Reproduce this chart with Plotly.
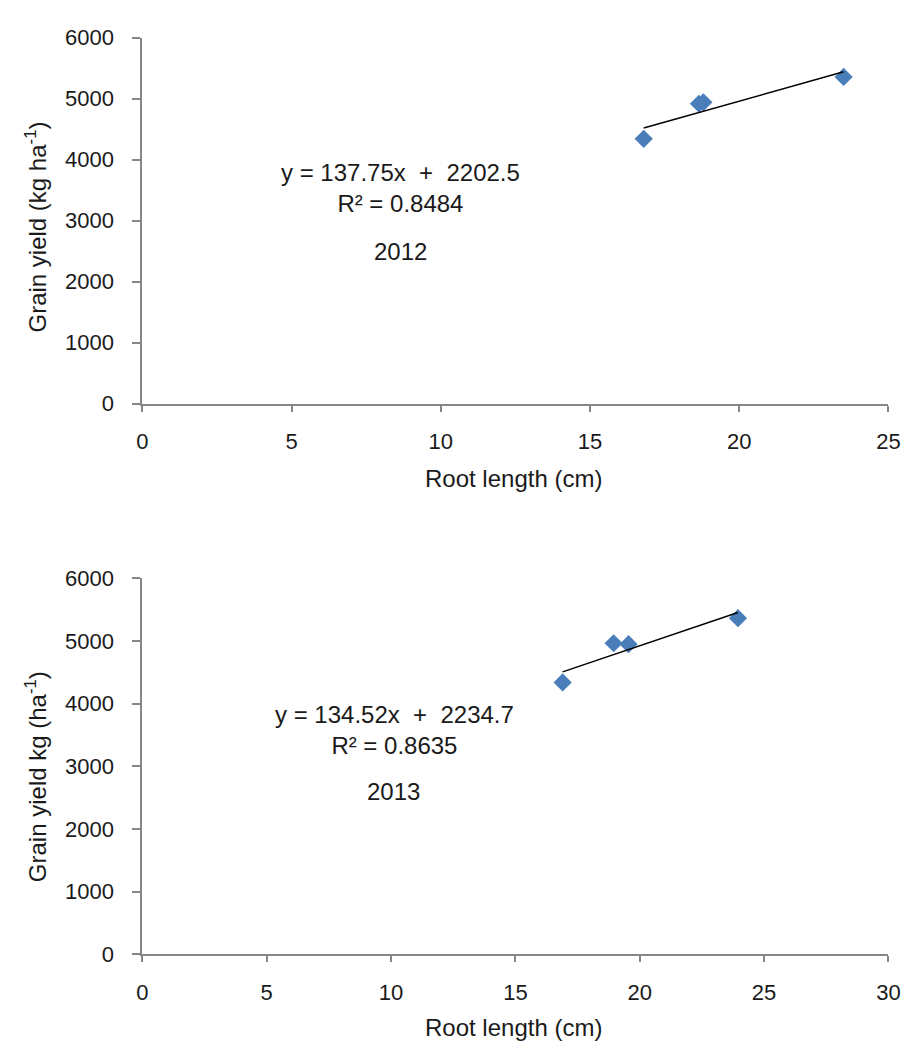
import plotly.graph_objects as go

W, H = 912, 1052

# ---- data ----
root_2012 = [16.8, 18.65, 18.8, 23.5]
yield_2012 = [4340, 4915, 4940, 5355]
slope_2012, intercept_2012, r2_2012 = 137.75, 2202.5, 0.8484

root_2013 = [16.9, 18.95, 19.55, 23.95]
yield_2013 = [4340, 4965, 4950, 5365]
slope_2013, intercept_2013, r2_2013 = 134.52, 2234.7, 0.8635

x_ticks_2012 = [0, 5, 10, 15, 20, 25]
x_ticks_2013 = [0, 5, 10, 15, 20, 25, 30]
y_ticks = [0, 1000, 2000, 3000, 4000, 5000, 6000]

BLUE = "#4A7EBB"
AXC = "#868686"
FONT = "Liberation Sans, Arial, sans-serif"
TXT = "#1a1a1a"

def px(x):
    return x / W

def py(y):
    return 1 - y / H

fig = go.Figure()

def add_panel(xs, ys, slope, icpt, xa, ya):
    fig.add_trace(go.Scatter(
        x=xs, y=ys, mode="markers", xaxis=xa, yaxis=ya,
        marker=dict(symbol="diamond", size=14, color=BLUE,
                    line=dict(width=0)),
        showlegend=False, hoverinfo="x+y"))
    lo, hi = min(xs), max(xs)
    fig.add_trace(go.Scatter(
        x=[lo, hi], y=[slope * lo + icpt, slope * hi + icpt],
        mode="lines", xaxis=xa, yaxis=ya,
        line=dict(color="black", width=1.5),
        showlegend=False, hoverinfo="skip"))

add_panel(root_2012, yield_2012, slope_2012, intercept_2012, "x", "y")
add_panel(root_2013, yield_2013, slope_2013, intercept_2013, "x2", "y2")

axis_common = dict(
    showline=True, linecolor=AXC, linewidth=2, ticks="outside",
    tickcolor=AXC, tickwidth=2, showgrid=False, zeroline=False,
    tickfont=dict(family=FONT, size=22, color=TXT), fixedrange=True,
)

fig.update_layout(
    width=W, height=H, margin=dict(l=0, r=0, t=0, b=0),
    paper_bgcolor="white", plot_bgcolor="white",
    xaxis=dict(axis_common, domain=[px(131), px(892)], range=[0, 25],
               tickvals=x_ticks_2012, ticklen=6, anchor="y",
               ticklabelstandoff=11),
    yaxis=dict(axis_common, domain=[py(393), py(18)], range=[0, 6000],
               tickvals=y_ticks, ticklen=8, anchor="x",
               ticklabelstandoff=14),
    xaxis2=dict(axis_common, domain=[px(131), px(892)], range=[0, 30],
                tickvals=x_ticks_2013, ticklen=6, anchor="y2",
                ticklabelstandoff=11),
    yaxis2=dict(axis_common, domain=[py(957), py(572)], range=[0, 6000],
                tickvals=y_ticks, ticklen=8, anchor="x2",
                ticklabelstandoff=14),
)

def ann(text, x, y, angle=0, size=24):
    fig.add_annotation(text=text, x=px(x), y=py(y), xref="paper", yref="paper",
                       showarrow=False, textangle=angle, align="center",
                       font=dict(family=FONT, size=size, color=TXT),
                       xanchor="center", yanchor="middle")

# axis titles
ann("Grain yield (kg ha<sup>-1</sup>)", 22, 212, angle=-90)
ann("Root length (cm)", 510, 470)
ann("Grain yield kg (ha<sup>-1</sup>)", 22, 775, angle=-90)
ann("Root length (cm)", 510, 1032)

# equations and years
ann(f"y = {slope_2012}x \u00a0+\u00a0 {intercept_2012}<br>R² = {r2_2012}", 394, 172)
ann("2012", 394, 237)
ann(f"y = {slope_2013}x \u00a0+\u00a0 {intercept_2013}<br>R² = {r2_2013}", 388, 727)
ann("2013", 387, 790)

fig.write_html("out.html")
